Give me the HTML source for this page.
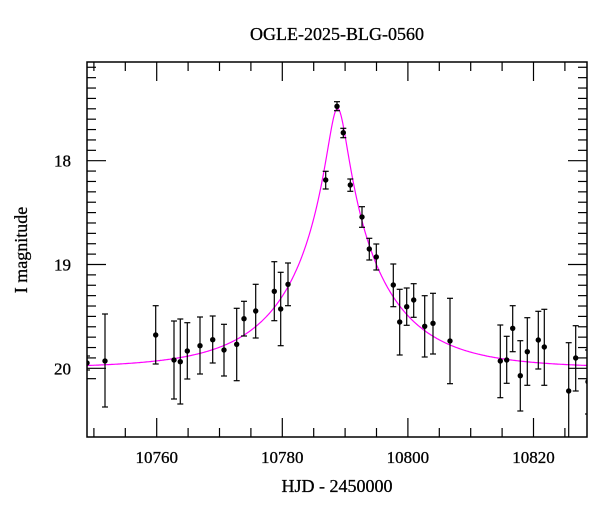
<!DOCTYPE html>
<html><head><meta charset="utf-8"><style>
html,body{margin:0;padding:0;background:#fff;}
svg text{font-family:"Liberation Serif",serif;fill:#000;}
</style></head><body>
<svg id="s" width="600" height="512" xmlns="http://www.w3.org/2000/svg">
<text x="337" y="40" font-size="18" text-anchor="middle" stroke="#000" stroke-width="0.3">OGLE-2025-BLG-0560</text>
<text x="337" y="492" font-size="18" text-anchor="middle" stroke="#000" stroke-width="0.3">HJD - 2450000</text>
<text transform="translate(27,250) rotate(-90)" font-size="18" text-anchor="middle" stroke="#000" stroke-width="0.3">I magnitude</text>
<g id="g"></g>
</svg>
<script>
var L=87,R=587,T=62,B=437;
function X(t){return 156.7+(t-10760)*6.28;}
function Y(m){return 160.7+(m-18)*103.8;}
var h='';
h+='<defs><clipPath id="c"><rect x="'+L+'" y="'+T+'" width="'+(R-L)+'" height="'+(B-T)+'"/></clipPath></defs>';
for(var t=10750;t<=10828;t+=5){var x=X(t),maj=(t%20==0),l=maj?19:9;
h+='<line x1="'+x+'" y1="'+T+'" x2="'+x+'" y2="'+(T+l)+'" stroke="#000" stroke-width="1.2"/>';
h+='<line x1="'+x+'" y1="'+B+'" x2="'+x+'" y2="'+(B-l)+'" stroke="#000" stroke-width="1.2"/>';
if(maj)h+='<text x="'+x+'" y="'+(B+26)+'" font-size="17" text-anchor="middle" stroke="#000" stroke-width="0.3">'+t+'</text>';}
for(var i=-6;i<=27;i++){var m=17.4+i*0.1;var y=Y(m);if(y<T+2||y>B-2)continue;var maj=(Math.abs(m-Math.round(m))<0.01),l=maj?19:9;
h+='<line x1="'+L+'" y1="'+y+'" x2="'+(L+l)+'" y2="'+y+'" stroke="#000" stroke-width="1.2"/>';
h+='<line x1="'+R+'" y1="'+y+'" x2="'+(R-l)+'" y2="'+y+'" stroke="#000" stroke-width="1.2"/>';
if(maj)h+='<text x="'+(L-16)+'" y="'+(y+6)+'" font-size="17" text-anchor="end" stroke="#000" stroke-width="0.3">'+Math.round(m)+'</text>';}
var t0=10788.8,u0=0.1,tE=15,base=20.0,p='';
for(var x=L;x<=R;x+=0.5){var t=10760+(x-156.7)/6.28;var tau=(t-t0)/tE;var u2=u0*u0+tau*tau;var A=(u2+2)/Math.sqrt(u2*(u2+4));var m=base-2.5*Math.log10(A);p+=(p?'L':'M')+x.toFixed(1)+' '+Y(m).toFixed(1);}
h+='<path d="'+p+'" fill="none" stroke="#ff00ff" stroke-width="1.2" clip-path="url(#c)"/>';
var d=[[87,363,356,370],[105,361,314,407],[155.7,335,305.7,364],[174,360,321,399],[180.3,361.7,319,404],[187.3,351,322.7,379],[200,345.7,317,374],[212.7,339.7,316,363],[224,350,324.3,376],[236.7,344.3,308.3,380.7],[244,318.7,301.3,336],[255.7,311,284.3,338],[274.3,291.3,261.7,320.7],[280.7,309,272.3,345.7],[288,284.3,263,305.7],[325.7,180,171.3,189],[337,106.3,101.7,110.7],[343.3,132.7,128.3,137.7],[350.3,185,179,191.3],[362,217,206.7,227.3],[369.3,249,238.3,260],[376.3,257,244,270],[393.3,285,264,306.7],[399.7,322,289.3,355],[406.7,306.7,288,325.3],[413.7,300,283.7,317.3],[424.7,326.3,295.7,357],[433,323.3,293.3,354],[450,341,298.3,383.7],[500.3,361,325,397.7],[506.7,360,336.3,383.3],[512.7,328.3,305.7,351.7],[520.3,375.7,340.7,411],[527.3,351.7,317.7,385.3],[538.3,340,311.3,369],[544.3,347,309.3,385.3],[568.7,391,342.7,440],[575.7,358,325.7,391],[588,381.7,350,414]];
h+='<g clip-path="url(#c)">';
d.forEach(function(a){h+='<line x1="'+a[0]+'" y1="'+a[2]+'" x2="'+a[0]+'" y2="'+a[3]+'" stroke="#000" stroke-width="1.2"/>';
h+='<line x1="'+(a[0]-3)+'" y1="'+a[2]+'" x2="'+(a[0]+3)+'" y2="'+a[2]+'" stroke="#000" stroke-width="1.2"/>';
h+='<line x1="'+(a[0]-3)+'" y1="'+a[3]+'" x2="'+(a[0]+3)+'" y2="'+a[3]+'" stroke="#000" stroke-width="1.2"/>';
h+='<circle cx="'+a[0]+'" cy="'+a[1]+'" r="2.7" fill="#000"/>';});
h+='</g>';
h+='<rect x="'+L+'" y="'+T+'" width="'+(R-L)+'" height="'+(B-T)+'" fill="none" stroke="#000" stroke-width="1.5"/>';
document.getElementById('g').innerHTML=h;
</script>
</body></html>
